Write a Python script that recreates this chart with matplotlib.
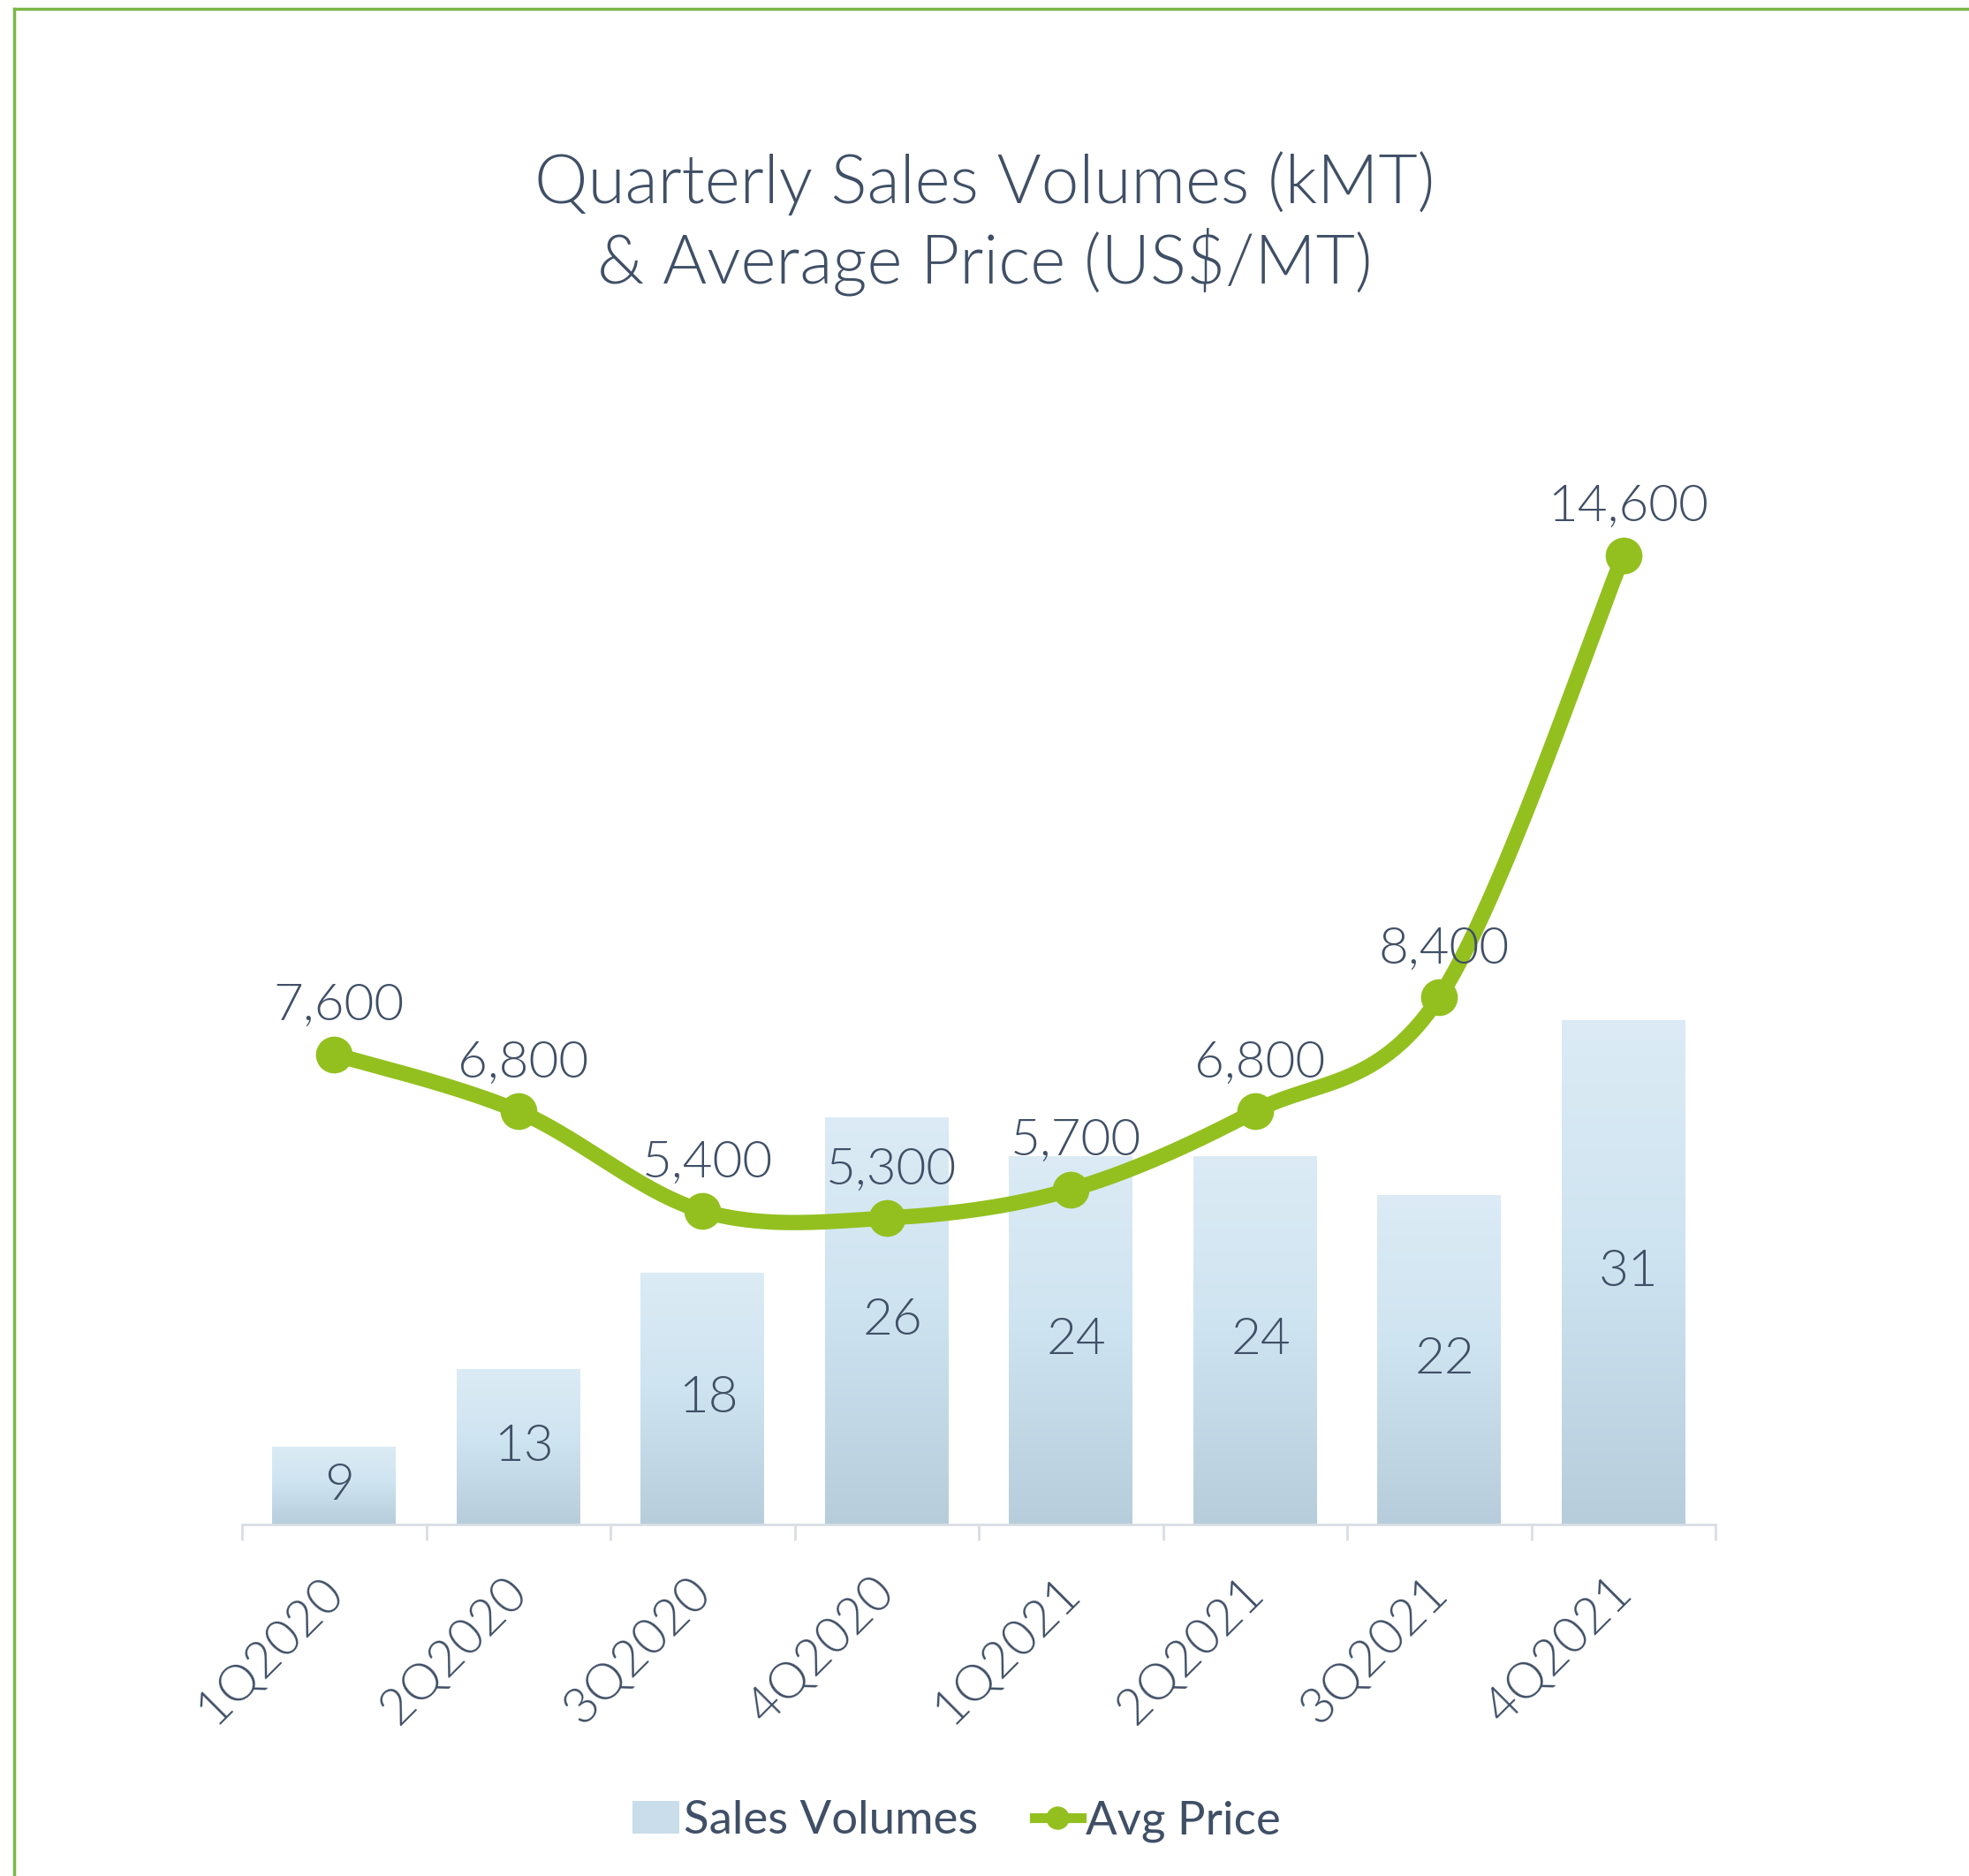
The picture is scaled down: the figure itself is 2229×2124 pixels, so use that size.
import numpy as np
import matplotlib
matplotlib.use("Agg")
import matplotlib.pyplot as plt
from matplotlib.lines import Line2D
from matplotlib.patches import Patch
from matplotlib.colors import LinearSegmentedColormap
from matplotlib.transforms import ScaledTranslation

# ---------------- data ----------------
categories = ["1Q2020", "2Q2020", "3Q2020", "4Q2020", "1Q2021", "2Q2021", "3Q2021", "4Q2021"]
sales_volumes = [9, 13, 18, 26, 24, 24, 22, 31]
avg_price = [7600, 6800, 5400, 5300, 5700, 6800, 8400, 14600]
title_text = "Quarterly Sales Volumes (kMT)\n& Average Price (US$/MT)"
legend_labels = ["Sales Volumes", "Avg Price"]

# ---------------- style ----------------
TEXT = "#3F4F66"
GREEN = "#93C01F"
BORDER = "#7AB648"
AXIS = "#D9DEE4"
FONT = ["Lato", "DejaVu Sans"]
WT = 300
plt.rcParams["font.family"] = FONT

W, H = 2229, 2124
fig = plt.figure(figsize=(W / 100, H / 100), dpi=100)
fig.patch.set_facecolor("white")

left, right = 274 / W, 1942 / W
bottom_px, top_px = 1726, 516
ax = fig.add_axes([left, 1 - bottom_px / H, right - left, (bottom_px - top_px) / H])
ax2 = ax.twinx()

x = np.arange(len(categories))
vol_min, vol_max = 5, 60.1
price_min, price_max = 1000, 16000

# bars with vertical gradient
bar_w = 0.67
bars = ax.bar(x, sales_volumes, width=bar_w, color="none", edgecolor="none", zorder=2)
cmap = LinearSegmentedColormap.from_list(
    "g", [(0.0, "#B7CDDB"), (0.55, "#CFE4F1"), (1.0, "#DCEBF5")])
grad = np.linspace(0, 1, 256).reshape(-1, 1)
for b, v in zip(bars, sales_volumes):
    x0 = b.get_x()
    im = ax.imshow(grad, cmap=cmap, aspect="auto", origin="lower",
                   extent=(x0, x0 + bar_w, vol_min, v), zorder=2, interpolation="bicubic")
    im.set_clip_path(b)
    ax.text(b.get_x() + bar_w / 2 + 0.03, (vol_min + v) / 2, f"{v}", ha="center", va="center",
            fontsize=42, color=TEXT, fontweight=WT, zorder=3)

ax.set_xlim(-0.5, len(categories) - 0.5)
ax.set_ylim(vol_min, vol_max)

# smoothed price line (Excel-style Bezier smoothing)
px = np.array(x, dtype=float)
py = np.array(avg_price, dtype=float)
P = np.column_stack([px, py])
Pext = np.vstack([P[0], P, P[-1]])
curve = []
for i in range(len(P) - 1):
    p0, p1, p2, p3 = Pext[i], Pext[i + 1], Pext[i + 2], Pext[i + 3]
    c1 = p1 + (p2 - p0) / 6
    c2 = p2 - (p3 - p1) / 6
    t = np.linspace(0, 1, 60)[:, None]
    seg = (1 - t) ** 3 * p1 + 3 * (1 - t) ** 2 * t * c1 + 3 * (1 - t) * t ** 2 * c2 + t ** 3 * p2
    curve.append(seg if i == 0 else seg[1:])
curve = np.vstack(curve)
ax2.plot(curve[:, 0], curve[:, 1], color=GREEN, lw=12.5, solid_capstyle="round", zorder=4)
ax2.plot(px, py, linestyle="none", marker="o", markersize=29, color=GREEN, zorder=5)
for xi, p in zip(px, avg_price):
    ax2.annotate(f"{p:,}", (xi, p), xytext=(4, 39), textcoords="offset points",
                 ha="center", va="center", fontsize=42, color=TEXT, fontweight=WT, zorder=6)
ax2.set_ylim(price_min, price_max)

# axes styling
for a in (ax, ax2):
    for s in ("top", "right", "left"):
        a.spines[s].set_visible(False)
    a.set_yticks([])
ax2.spines["bottom"].set_visible(False)
ax.spines["bottom"].set_color(AXIS)
ax.spines["bottom"].set_linewidth(2)
ax.set_xticks(x)
ax.set_xticklabels(categories, rotation=45, ha="right", va="top", rotation_mode="anchor",
                   fontsize=41, color=TEXT, fontweight=WT)
ax.tick_params(axis="x", which="major", length=0, pad=36)
shift = ScaledTranslation(-12 / 72, 0, fig.dpi_scale_trans)
for lab in ax.get_xticklabels():
    lab.set_transform(lab.get_transform() + shift)
ax.set_xticks(np.arange(-0.5, len(categories), 1.0), minor=True)
ax.tick_params(axis="x", which="minor", length=13, width=2, color=AXIS)

# title
fig.text(0.5, 1 - 253 / H, title_text, ha="center", va="center", fontsize=55,
         color=TEXT, linespacing=1.22, fontweight=WT)

# legend
handles = [Patch(facecolor="#C9DDEA", edgecolor="none"),
           Line2D([0], [0], color=GREEN, lw=8, marker="o", markersize=18)]
fig.legend(handles, legend_labels, loc="center", bbox_to_anchor=(1083 / W, 1 - 2062 / H),
           ncol=2, frameon=False, labelcolor=TEXT, handlelength=1.0,
           handletextpad=0.1, columnspacing=1.2, prop={"family": FONT, "size": 38})

# green frame lines (top and left)
fig.add_artist(Line2D([16 / W, 1.0], [1 - 10 / H, 1 - 10 / H], color=BORDER, lw=2.5,
                      transform=fig.transFigure))
fig.add_artist(Line2D([16 / W, 16 / W], [0, 1 - 10 / H], color=BORDER, lw=2.5,
                      transform=fig.transFigure))

fig.savefig("out.png", dpi=100, facecolor="white")
